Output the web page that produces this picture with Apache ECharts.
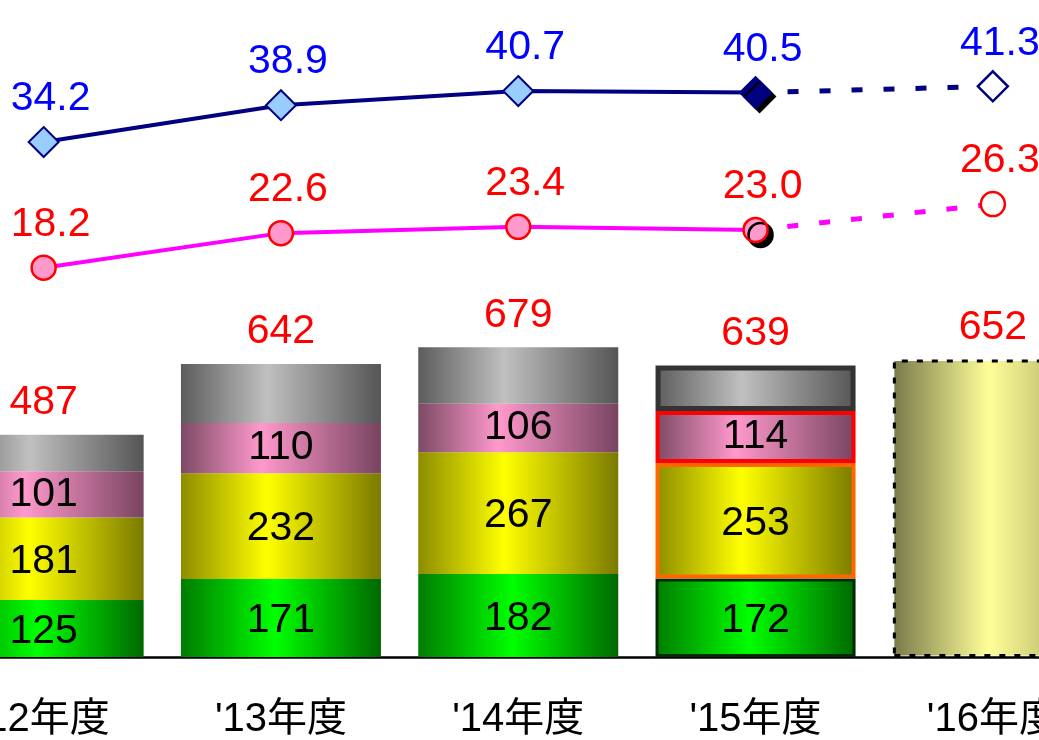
<!DOCTYPE html>
<html>
<head>
<meta charset="utf-8">
<script src="https://cdn.jsdelivr.net/npm/echarts@6/dist/echarts.min.js"></script>
<style>
  html, body { margin: 0; padding: 0; background: #ffffff; }
  #chart { width: 1039px; height: 740px; }
</style>
</head>
<body>
<div id="chart"></div>
<script>
// Fiscal years (the last one is a forecast)
const categories = ["'12年度", "'13年度", "'14年度", "'15年度", "'16年度"];
const forecastIndex = 4;

// Stacked sales breakdown and totals
const totals   = [487, 642, 679, 639, 652];
const segGreen = [125, 171, 182, 172];
const segYellow = [181, 232, 267, 253];
const segPink  = [101, 110, 106, 114];

// Ratios shown as lines
const rateBlue = [34.2, 38.9, 40.7, 40.5, 41.3];
const ratePink = [18.2, 22.6, 23.4, 23.0, 26.3];

const FONT = "'Liberation Sans', Arial, 'Noto Sans CJK JP', sans-serif";
const NUM_SIZE = 41;
const LAST_ACTUAL = forecastIndex - 1;

function grad(stops) {
  return {
    type: 'linear', x: 0, y: 0, x2: 1, y2: 0,
    colorStops: stops.map(([o, c]) => ({ offset: o, color: c }))
  };
}

const fillGreen  = grad([[0, '#007c00'], [0.47, '#00ff00'], [1, '#006800']]);
const fillYellow = grad([[0, '#8c8c00'], [0.43, '#ffff00'], [1, '#7a7a00']]);
const fillPink   = grad([[0, '#7c4a64'], [0.40, '#ff99cc'], [1, '#784460']]);
const fillGray   = grad([[0, '#5c5c5c'], [0.43, '#c0c0c0'], [1, '#555555']]);
const fillFcst   = grad([[0, '#78784a'], [0.48, '#ffff99'], [1, '#9c9c5a']]);

// remaining part of each actual total
const segGray = totals.slice(0, forecastIndex).map((t, i) => t - segGreen[i] - segYellow[i] - segPink[i]);

// the latest actual year gets outlined segments
function segData(values, lastBorder) {
  return categories.map((_, i) => {
    if (i >= values.length) return null;
    if (i === LAST_ACTUAL) return { value: values[i], itemStyle: lastBorder };
    return values[i];
  });
}

function segLabel(dy) {
  return {
    show: true, position: 'inside', color: '#000000', offset: [0, dy],
    fontSize: NUM_SIZE, fontFamily: FONT
  };
}

const forecastBar = categories.map((_, i) => i === forecastIndex ? totals[i] : null);

const blueSolid = rateBlue.map((v, i) => {
  if (i > LAST_ACTUAL) return null;
  if (i === LAST_ACTUAL) return {
    value: v, symbolSize: 31,
    itemStyle: { color: '#000080', borderColor: '#000080', shadowColor: '#000000', shadowOffsetX: 4, shadowOffsetY: 4, shadowBlur: 0 }
  };
  return v;
});
const blueDashed = rateBlue.map((v, i) => {
  if (i < LAST_ACTUAL) return null;
  if (i === LAST_ACTUAL) return { value: v, symbol: 'none', label: { show: false } };
  return v;
});
const pinkSolid = ratePink.map((v, i) => {
  if (i > LAST_ACTUAL) return null;
  if (i === LAST_ACTUAL) return {
    value: v,
    itemStyle: { shadowColor: '#000000', shadowOffsetX: 5, shadowOffsetY: 5, shadowBlur: 0 }
  };
  return v;
});
const pinkDashed = ratePink.map((v, i) => {
  if (i < LAST_ACTUAL) return null;
  if (i === LAST_ACTUAL) return { value: v, symbol: 'none', label: { show: false } };
  return v;
});

function rateLabel(color) {
  return {
    show: true, position: 'inside', offset: [7, -43],
    color: color, fontSize: NUM_SIZE, fontFamily: FONT,
    formatter: p => Number(p.value).toFixed(1)
  };
}

const chart = echarts.init(document.getElementById('chart'), null, { renderer: 'canvas' });

chart.setOption({
  animation: false,
  backgroundColor: '#ffffff',
  grid: {
    left: -75, right: -72.5, top: 0, bottom: 83,
    containLabel: false, outerBoundsMode: 'none'
  },
  xAxis: {
    type: 'category',
    data: categories,
    axisTick: { show: false },
    axisLine: { lineStyle: { color: '#000000', width: 2.5 } },
    axisLabel: {
      color: '#000000', fontSize: 40, lineHeight: 42, fontFamily: FONT,
      margin: 42, interval: 0
    }
  },
  yAxis: [
    { type: 'value', min: 0, max: 1440, show: false },
    { type: 'value', min: -31.4, max: 52.3, show: false }
  ],
  series: [
    {
      name: '緑', type: 'bar', stack: 'sales', barWidth: 200,
      itemStyle: { color: fillGreen },
      label: segLabel(3),
      data: segData(segGreen, { borderColor: '#002a00', borderWidth: 3 })
    },
    {
      name: '黄', type: 'bar', stack: 'sales', barWidth: 200,
      itemStyle: { color: fillYellow },
      label: segLabel(3),
      data: segData(segYellow, { borderColor: '#ff6600', borderWidth: 4 })
    },
    {
      name: '桃', type: 'bar', stack: 'sales', barWidth: 200,
      itemStyle: { color: fillPink },
      label: segLabel(0),
      data: segData(segPink, { borderColor: '#ff0000', borderWidth: 4 })
    },
    {
      name: '灰', type: 'bar', stack: 'sales', barWidth: 200,
      itemStyle: { color: fillGray },
      data: segData(segGray, { borderColor: '#333333', borderWidth: 5 })
    },
    {
      name: '見通し', type: 'bar', stack: 'sales', barWidth: 200,
      itemStyle: {
        color: fillFcst, borderColor: '#000000', borderWidth: 3,
        borderType: [6, 9]
      },
      data: forecastBar
    },
    {
      name: '合計', type: 'scatter', symbolSize: 1, z: 5,
      itemStyle: { color: 'rgba(0,0,0,0)', opacity: 1 },
      label: {
        show: true, position: 'inside', offset: [0, -32],
        color: '#ff0000', fontSize: NUM_SIZE, fontFamily: FONT,
        formatter: p => String(p.value)
      },
      data: totals
    },
    {
      name: '比率A', type: 'line', yAxisIndex: 1, z: 6,
      symbol: 'diamond', symbolSize: 30,
      lineStyle: { color: '#000080', width: 4 },
      itemStyle: { color: '#99ccff', borderColor: '#000080', borderWidth: 2 },
      label: rateLabel('#0000ff'),
      data: blueSolid
    },
    {
      name: '比率A見通し', type: 'line', yAxisIndex: 1, z: 6,
      symbol: 'diamond', symbolSize: 30,
      lineStyle: { color: '#000080', width: 5, type: [11, 21] },
      itemStyle: { color: '#ffffff', borderColor: '#000080', borderWidth: 2.5 },
      label: rateLabel('#0000ff'),
      data: blueDashed
    },
    {
      name: '比率B', type: 'line', yAxisIndex: 1, z: 6,
      symbol: 'circle', symbolSize: 24,
      lineStyle: { color: '#ff00ff', width: 4 },
      itemStyle: { color: '#ff99cc', borderColor: '#ff0000', borderWidth: 2.5 },
      label: rateLabel('#ff0000'),
      data: pinkSolid
    },
    {
      name: '比率B見通し', type: 'line', yAxisIndex: 1, z: 6,
      symbol: 'circle', symbolSize: 24,
      lineStyle: { color: '#ff00ff', width: 5, type: [11, 21] },
      itemStyle: { color: '#ffffff', borderColor: '#ff0000', borderWidth: 2.5 },
      label: rateLabel('#ff0000'),
      data: pinkDashed
    }
  ]
});
</script>
</body>
</html>
